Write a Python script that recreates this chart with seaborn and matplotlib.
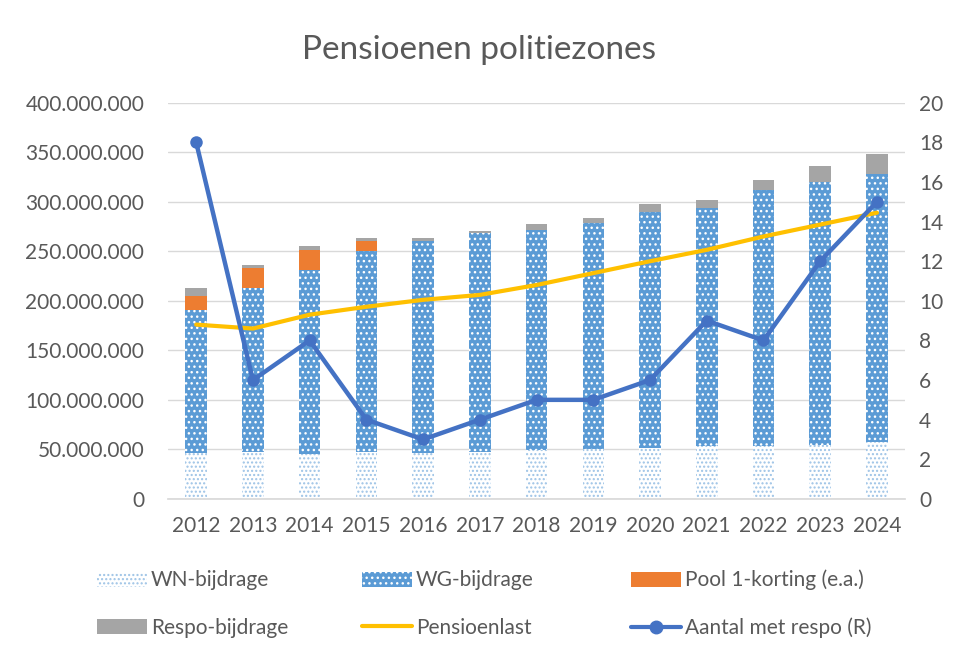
import numpy as np
import pandas as pd
import matplotlib
matplotlib.use("Agg")
import matplotlib.pyplot as plt
import seaborn as sns
from matplotlib.patches import Patch
from matplotlib.lines import Line2D
from matplotlib.ticker import FuncFormatter, MultipleLocator

years = ["2012", "2013", "2014", "2015", "2016", "2017", "2018",
         "2019", "2020", "2021", "2022", "2023", "2024"]
wn_bijdrage = [46, 47, 45, 47, 46, 47, 49.5, 50, 51.5, 53.5, 53.5, 54.5, 57]          # mln
wg_bijdrage = [145, 166, 186, 203, 214, 222, 222.5, 229, 238.5, 240.5, 258.5, 265.5, 271]
pool1_korting = [14, 20, 20.5, 10, 0, 0, 0, 0, 0, 0, 0, 0, 0]
respo_bijdrage = [8, 3, 3.5, 3.5, 3.5, 2, 6, 5, 8, 8, 10, 16, 20]
pensioenlast = [176, 172, 186, 194, 201, 206, 216, 228, 240, 251.5, 265, 277, 289]
aantal_respo = [18, 6, 8, 4, 3, 4, 5, 5, 6, 9, 8, 12, 15]

M = 1e6
df = pd.DataFrame({
    "jaar": years,
    "wn": np.array(wn_bijdrage) * M,
    "wg": np.array(wg_bijdrage) * M,
    "pool": np.array(pool1_korting) * M,
    "respo": np.array(respo_bijdrage) * M,
    "last": np.array(pensioenlast) * M,
    "aantal": aantal_respo,
})
df["c_wn"] = df["wn"]
df["c_wg"] = df["c_wn"] + df["wg"]
df["c_pool"] = df["c_wg"] + df["pool"]
df["c_respo"] = df["c_pool"] + df["respo"]

sns.set_theme(style="white")
plt.rcParams["font.family"] = ["Lato", "DejaVu Sans"]
plt.rcParams["hatch.linewidth"] = 1.0

TXT = "#595959"
BLUE = "#5B9BD5"
LIGHT = "#9DC3E6"
ORANGE = "#ED7D31"
GRAY = "#A5A5A5"
YELLOW = "#FFC000"
DBLUE = "#4472C4"

fig = plt.figure(figsize=(9.59, 6.59), dpi=100)
ax = fig.add_axes([0.175, 0.243, 0.769, 0.601])

W = 0.38
sns.barplot(data=df, x="jaar", y="c_respo", color=GRAY, width=W, saturation=1,
            linewidth=0, ax=ax, zorder=2)
sns.barplot(data=df, x="jaar", y="c_pool", color=ORANGE, width=W, saturation=1,
            linewidth=0, ax=ax, zorder=2)
sns.barplot(data=df, x="jaar", y="c_wg", color=BLUE, width=W, saturation=1,
            linewidth=0, edgecolor="white", hatch="...", ax=ax, zorder=2)
sns.barplot(data=df, x="jaar", y="c_wn", color="white", width=W, saturation=1,
            linewidth=0, edgecolor=LIGHT, hatch="....", ax=ax, zorder=2)
sns.lineplot(data=df, x="jaar", y="last", color=YELLOW, linewidth=3,
             ax=ax, zorder=3, sort=False)

ax.set_ylim(0, 400 * M)
ax.yaxis.set_major_locator(MultipleLocator(50 * M))
ax.yaxis.set_major_formatter(FuncFormatter(
    lambda v, p: "0" if v == 0 else f"{int(round(v)):,}".replace(",", ".")))
ax.grid(axis="y", color="#D9D9D9", linewidth=1, zorder=0)
ax.set_axisbelow(True)
for s in ["top", "left", "right"]:
    ax.spines[s].set_visible(False)
ax.spines["bottom"].set_color("#D9D9D9")
ax.set_xlabel("")
ax.set_ylabel("")
ax.tick_params(axis="y", colors=TXT, labelsize=15, length=0, pad=17)
ax.tick_params(axis="x", colors=TXT, labelsize=15, length=0, pad=12)
ax.set_xlim(-0.5, len(years) - 0.5)

ax2 = ax.twinx()
sns.lineplot(data=df, x="jaar", y="aantal", color=DBLUE, linewidth=3.2,
             marker="o", markersize=9, markeredgewidth=0, ax=ax2, zorder=4, sort=False)
ax2.set_ylim(0, 20)
ax2.yaxis.set_major_locator(MultipleLocator(2))
ax2.set_ylabel("")
ax2.set_xlabel("")
for s in ["top", "left", "right", "bottom"]:
    ax2.spines[s].set_visible(False)
ax2.tick_params(axis="y", colors=TXT, labelsize=15, length=0, pad=10)
ax2.grid(False)
ax2.set_xlim(-0.5, len(years) - 0.5)

fig.text(0.5, 0.924, "Pensioenen politiezones", ha="center", va="center",
         fontsize=24, color=TXT)

h_wn = Patch(facecolor="white", edgecolor=LIGHT, hatch="....", linewidth=0)
h_wg = Patch(facecolor=BLUE, edgecolor="white", hatch="...", linewidth=0)
h_pool = Patch(facecolor=ORANGE, linewidth=0)
h_respo = Patch(facecolor=GRAY, linewidth=0)
h_last = Line2D([0], [0], color=YELLOW, linewidth=3)
h_aantal = Line2D([0], [0], color=DBLUE, linewidth=3, marker="o", markersize=9)

columns = [
    (97, [h_wn, h_respo], ["WN-bijdrage", "Respo-bijdrage"]),
    (362, [h_wg, h_last], ["WG-bijdrage", "Pensioenlast"]),
    (631, [h_pool, h_aantal], ["Pool 1-korting (e.a.)", "Aantal met respo (R)"]),
]
for xpx, hs, ls in columns:
    fig.legend(hs, ls, loc="center left", bbox_to_anchor=(xpx / 959, 1 - 604 / 659),
               ncol=1, frameon=False, fontsize=15, labelcolor=TXT,
               handlelength=2.4, handleheight=0.75, handletextpad=0.2,
               borderpad=0, borderaxespad=0, labelspacing=1.3)

fig.savefig("out.png", dpi=100)
